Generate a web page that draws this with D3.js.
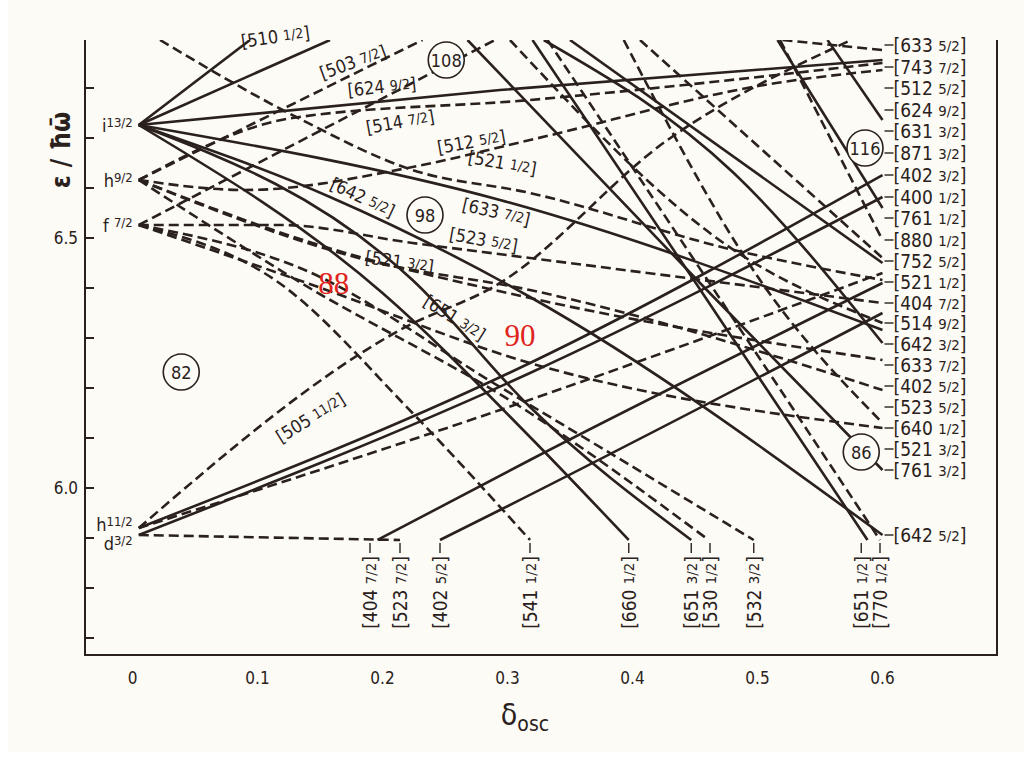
<!DOCTYPE html>
<html><head><meta charset="utf-8">
<script src="https://cdn.jsdelivr.net/npm/d3@7"></script>
<style>
body{margin:0;background:#fff;}
text{font-family:"DejaVu Sans Condensed","DejaVu Sans",sans-serif;fill:#2a211c;}
</style></head>
<body><svg id="svg" width="1024" height="768"></svg>
<script>
// shell origins at zero deformation
const I13 = [0.005, 6.726], H9 = [0.005, 6.616], F7 = [0.005, 6.526];
const H11 = [0.005, 5.92], D3 = [0.005, 5.906];

// solid levels (positive parity), points [delta, energy]
const solidLevels = [
  [I13, [0.094, 6.896]],
  [I13, [0.158, 6.896]],
  [I13, [0.294, 6.796], [0.6, 6.856]],
  [I13, [0.294, 6.576], [0.6, 6.316]],
  [I13, [0.158, 6.582], [0.318, 6.382], [0.6, 5.906]],
  [I13, [0.224, 6.416], [0.318, 6.162], [0.447, 5.896]],
  [I13, [0.2, 6.39], [0.318, 6.102], [0.397, 5.896]],
  [[0.268, 6.896], [0.454, 6.41], [0.6, 6.036]],
  [[0.32, 6.896], [0.449, 6.416], [0.588, 5.896]],
  [[0.329, 6.896], [0.481, 6.63], [0.6, 6.29]],
  [[0.35, 6.896], [0.6, 6.45]],
  [[0.516, 6.896], [0.6, 6.56]],
  [[0.556, 6.896], [0.6, 6.736]],
  [H11, [0.318, 6.25], [0.6, 6.626]],
  [D3, [0.318, 6.23], [0.6, 6.582]],
  [[0.196, 5.896], [0.318, 6.056], [0.6, 6.41]],
  [[0.246, 5.896], [0.294, 5.956], [0.6, 6.35]]
];

// dashed levels (negative parity)
const dashedLevels = [
  [H11, [0.214, 6.316], [0.294, 6.41], [0.428, 6.696], [0.575, 6.896]],
  [H11, [0.294, 6.156], [0.6, 6.43]],
  [D3, [0.214, 5.896]],
  [H9, [0.232, 6.896]],
  [F7, [0.29, 6.896]],
  [H9, [0.128, 6.74], [0.318, 6.776], [0.6, 6.85]],
  [H9, [0.09, 6.596], [0.224, 6.642], [0.318, 6.696], [0.515, 6.81], [0.6, 6.836]],
  [[0.022, 6.896], [0.131, 6.742], [0.224, 6.636], [0.318, 6.59], [0.481, 6.476], [0.6, 6.416]],
  [F7, [0.118, 6.526], [0.224, 6.49], [0.318, 6.46], [0.6, 6.37]],
  [H9, [0.144, 6.49], [0.318, 6.38], [0.6, 6.256]],
  [H9, [0.187, 6.456], [0.318, 6.396], [0.6, 6.196]],
  [F7, [0.144, 6.406], [0.318, 6.25], [0.6, 6.12]],
  [F7, [0.114, 6.416], [0.224, 6.15], [0.318, 5.896]],
  [H9, [0.131, 6.416], [0.318, 6.15], [0.461, 5.896]],
  [F7, [0.134, 6.44], [0.294, 6.202], [0.497, 5.896]],
  [[0.332, 6.896], [0.46, 6.416], [0.598, 5.896]],
  [[0.393, 6.896], [0.502, 6.416], [0.6, 6.13]],
  [[0.406, 6.896], [0.6, 6.46]],
  [[0.518, 6.896], [0.6, 6.496]],
  [[0.302, 6.896], [0.481, 6.476], [0.6, 6.33]],
  [[0.52, 6.896], [0.6, 6.876]]
];

// right-hand labels: [N nz Λ, Ω, energy]
const rightLabels = [
  ["633", "5/2", 6.886], ["743", "7/2", 6.842], ["512", "5/2", 6.80], ["624", "9/2", 6.756],
  ["631", "3/2", 6.714], ["871", "3/2", 6.67], ["402", "3/2", 6.626], ["400", "1/2", 6.582],
  ["761", "1/2", 6.54], ["880", "1/2", 6.496], ["752", "5/2", 6.454], ["521", "1/2", 6.412],
  ["404", "7/2", 6.37], ["514", "9/2", 6.33], ["642", "3/2", 6.288], ["633", "7/2", 6.246],
  ["402", "5/2", 6.204], ["523", "5/2", 6.162], ["640", "1/2", 6.12], ["521", "3/2", 6.078],
  ["761", "3/2", 6.036], ["642", "5/2", 5.906]
];

// bottom labels: [name, Ω, delta]
const bottomLabels = [
  ["404", "7/2", 0.19], ["523", "7/2", 0.214], ["402", "5/2", 0.246], ["541", "1/2", 0.318],
  ["660", "1/2", 0.397], ["651", "3/2", 0.447], ["530", "1/2", 0.462], ["532", "3/2", 0.497],
  ["651", "1/2", 0.583], ["770", "1/2", 0.598]
];

// inline labels: [name, Ω, delta, energy, angle]
const inlineLabels = [
  ["510", "1/2", 0.115, 6.89, -8], ["503", "7/2", 0.178, 6.84, -20], ["624", "9/2", 0.2, 6.79, -6],
  ["514", "7/2", 0.215, 6.72, -10], ["512", "5/2", 0.272, 6.68, -10], ["521", "1/2", 0.295, 6.638, 10],
  ["633", "7/2", 0.29, 6.54, 13], ["642", "5/2", 0.182, 6.57, 25], ["523", "5/2", 0.28, 6.484, 10],
  ["521", "3/2", 0.213, 6.44, 8], ["651", "3/2", 0.255, 6.33, 32], ["505", "11/2", 0.145, 6.13, -32]
];

const shells = [["i", "13/2", I13], ["h", "9/2", H9], ["f ", "7/2", F7], ["h", "11/2", [0.005, 5.928]], ["d", "3/2", [0.005, 5.89]]];
const magic = [["108", 0.251, 6.856], ["116", 0.586, 6.68], ["98", 0.234, 6.546], ["82", 0.039, 6.232], ["86", 0.583, 6.072]];
const redMarks = [["88", 0.161, 6.41], ["90", 0.31, 6.306]];
const xTicks = [0, 0.1, 0.2, 0.3, 0.4, 0.5, 0.6];
const yTicks = [5.7, 5.8, 5.9, 6.0, 6.1, 6.2, 6.3, 6.4, 6.5, 6.6, 6.7, 6.8];

const ink = "#2a211c";
const svg = d3.select("#svg");
svg.append("rect").attr("x", 8).attr("width", 1016).attr("height", 752).attr("fill", "#fcfbf5");

const x = d3.scaleLinear().domain([-0.038, 0.69]).range([85, 995]);
const y = d3.scaleLinear().domain([5.666, 6.896]).range([655, 40]);

svg.append("clipPath").attr("id", "c").append("rect")
  .attr("x", 85).attr("y", 40).attr("width", 912).attr("height", 615);
const plot = svg.append("g").attr("clip-path", "url(#c)");

const line = d3.line().x(d => x(d[0])).y(d => y(d[1])).curve(d3.curveMonotoneX);

plot.selectAll(".solid").data(solidLevels).enter().append("path")
  .attr("d", line).attr("fill", "none").attr("stroke", ink).attr("stroke-width", 2.6);
plot.selectAll(".dash").data(dashedLevels).enter().append("path")
  .attr("d", line).attr("fill", "none").attr("stroke", ink).attr("stroke-width", 2.6)
  .attr("stroke-dasharray", "10,5");

function label(sel, name, om) {
  sel.append("tspan").text("[" + name + " ");
  sel.append("tspan").attr("font-size", "0.78em").attr("dy", "-0.1em").text(om);
  sel.append("tspan").attr("dy", "0.1em").text("]");
}

// right labels with leader ticks
rightLabels.forEach(d => {
  svg.append("line").attr("x1", x(0.6) + 2).attr("x2", x(0.6) + 11)
    .attr("y1", y(d[2])).attr("y2", y(d[2])).attr("stroke", ink).attr("stroke-width", 1.4);
  const t = svg.append("text").attr("x", x(0.6) + 11).attr("y", y(d[2]) + 7)
    .attr("font-size", 19);
  label(t, d[0], d[1]);
});

// bottom labels (vertical)
bottomLabels.forEach(d => {
  svg.append("line").attr("x1", x(d[2])).attr("x2", x(d[2]))
    .attr("y1", y(5.89)).attr("y2", y(5.87)).attr("stroke", ink).attr("stroke-width", 1.4);
  const t = svg.append("text").attr("font-size", 19).attr("text-anchor", "end")
    .attr("transform", `translate(${x(d[2]) + 7},${y(5.864)}) rotate(-90)`);
  label(t, d[0], d[1]);
});

inlineLabels.forEach(d => {
  const t = svg.append("text").attr("font-size", 18).attr("text-anchor", "middle")
    .attr("transform", `translate(${x(d[2])},${y(d[3])}) rotate(${d[4]})`);
  label(t, d[0], d[1]);
});

shells.forEach(d => {
  const t = svg.append("text").attr("x", x(d[2][0]) - 6).attr("y", y(d[2][1]) + 7)
    .attr("text-anchor", "end").attr("font-size", 18);
  t.append("tspan").text(d[0]);
  t.append("tspan").attr("font-size", 13).attr("dy", -5).text(d[1]);
});

magic.forEach(d => {
  svg.append("circle").attr("cx", x(d[1])).attr("cy", y(d[2])).attr("r", 18)
    .attr("fill", "#fcfbf5").attr("stroke", ink).attr("stroke-width", 1.6);
  svg.append("text").attr("x", x(d[1])).attr("y", y(d[2]) + 7).attr("text-anchor", "middle")
    .attr("font-size", 18).text(d[0]);
});

redMarks.forEach(d => {
  svg.append("text").attr("x", x(d[1])).attr("y", y(d[2]) + 11).attr("text-anchor", "middle")
    .style("font-family", "'Liberation Serif', serif").style("fill", "#e0241c")
    .attr("font-size", 31).text(d[0]);
});

// frame and axes
svg.append("path").attr("d", `M85,40V655H997V40`).attr("fill", "none").attr("stroke", ink).attr("stroke-width", 2);
svg.selectAll(".yt").data(yTicks).enter().append("line")
  .attr("x1", 85).attr("x2", 94).attr("y1", d => y(d)).attr("y2", d => y(d))
  .attr("stroke", ink).attr("stroke-width", 2);
svg.selectAll(".xt").data(xTicks).enter().append("text")
  .attr("x", d => x(d)).attr("y", 684).attr("text-anchor", "middle").attr("font-size", 17)
  .text(d => d === 0 ? "0" : d3.format(".1f")(d));
[6.5, 6.0].forEach(v => {
  svg.append("text").attr("x", 78).attr("y", y(v) + 6).attr("text-anchor", "end")
    .attr("font-size", 17).text(d3.format(".1f")(v));
});
svg.append("text").attr("transform", "translate(70,150) rotate(-90)").attr("text-anchor", "middle")
  .attr("font-size", 26).attr("font-weight", "bold").text("ε / ħω̄");
const xt = svg.append("text").attr("x", 525).attr("y", 725).attr("text-anchor", "middle").attr("font-size", 30);
xt.append("tspan").text("δ");
xt.append("tspan").attr("font-size", 21).attr("dy", 6).text("osc");
</script></body></html>
